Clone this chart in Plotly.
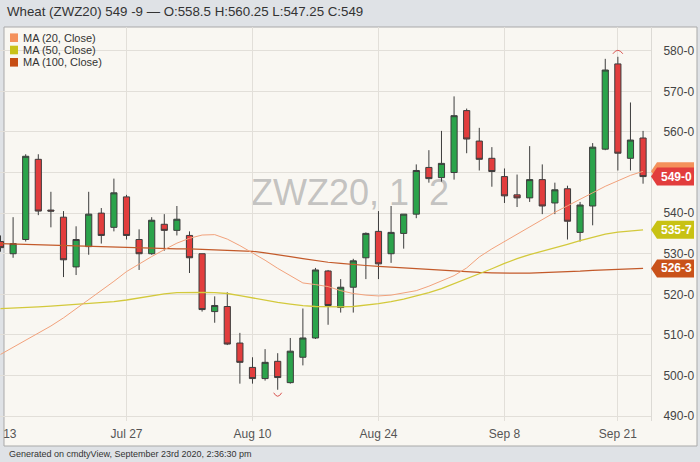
import plotly.graph_objects as go

# ---------------- data ----------------
dates = ["2020-07-13","2020-07-14","2020-07-15","2020-07-16","2020-07-17",
         "2020-07-20","2020-07-21","2020-07-22","2020-07-23","2020-07-24",
         "2020-07-27","2020-07-28","2020-07-29","2020-07-30","2020-07-31",
         "2020-08-03","2020-08-04","2020-08-05","2020-08-06","2020-08-07",
         "2020-08-10","2020-08-11","2020-08-12","2020-08-13","2020-08-14",
         "2020-08-17","2020-08-18","2020-08-19","2020-08-20","2020-08-21",
         "2020-08-24","2020-08-25","2020-08-26","2020-08-27","2020-08-28",
         "2020-08-31","2020-09-01","2020-09-02","2020-09-03","2020-09-04",
         "2020-09-08","2020-09-09","2020-09-10","2020-09-11",
         "2020-09-14","2020-09-15","2020-09-16","2020-09-17","2020-09-18",
         "2020-09-21","2020-09-22","2020-09-23"]

open_ = [533.0, 530.0, 533.5, 553.25, 540.75,
         539.0, 526.75, 531.75, 540.0, 536.5,
         544.0, 533.5, 530.0, 537.25, 535.75,
         534.5, 530.0, 515.75, 517.0, 508.0,
         502.0, 499.25, 503.5, 498.25, 504.5,
         509.25, 525.75, 516.75, 521.75, 529.0,
         535.5, 530.0, 535.0, 539.75, 551.25,
         548.75, 550.0, 565.25, 557.75, 553.5,
         549.0, 544.5, 543.75, 548.25,
         542.5, 546.0, 535.25, 541.75, 555.75,
         576.75, 553.5, 558.5]
high = [534.5, 539.0, 554.5, 554.5, 545.25,
        540.5, 536.75, 545.25, 541.25, 548.5,
        544.5, 536.0, 539.0, 539.75, 541.75,
        535.5, 530.0, 519.5, 520.5, 510.5,
        504.5, 506.5, 505.5, 509.25, 516.5,
        526.5, 526.0, 523.75, 528.75, 535.25,
        540.5, 541.75, 539.75, 552.0, 555.5,
        560.25, 568.75, 565.75, 561.0, 556.25,
        551.0, 549.5, 556.5, 552.0,
        547.5, 546.75, 542.75, 557.25, 578.0,
        578.5, 567.25, 560.25]
low = [530.5, 529.0, 533.0, 539.5, 536.5,
       524.25, 524.75, 529.75, 532.5, 535.5,
       533.5, 526.0, 529.75, 530.75, 534.5,
       525.25, 515.75, 513.0, 507.5, 498.0,
       498.0, 498.75, 496.5, 498.0, 502.5,
       509.0, 512.5, 515.5, 515.5, 523.75,
       523.75, 527.75, 531.25, 538.75, 547.5,
       547.75, 548.25, 554.75, 550.5, 546.5,
       542.5, 541.5, 542.75, 539.75,
       539.75, 533.5, 533.0, 537.0, 555.5,
       550.5, 550.5, 547.25]
close = [531.5, 532.5, 554.0, 540.5, 540.5,
         528.5, 533.5, 539.75, 534.5, 545.0,
         534.5, 530.0, 538.25, 535.75, 538.5,
         529.0, 516.25, 517.25, 507.75, 503.25,
         499.25, 503.25, 499.5, 506.0, 509.25,
         526.0, 517.25, 521.75, 528.25, 535.0,
         527.5, 535.25, 539.75, 550.5, 548.5,
         552.25, 564.0, 558.25, 553.25, 550.25,
         544.25, 543.75, 548.25, 541.75,
         545.75, 538.0, 542.0, 556.25, 575.25,
         554.75, 558.0, 549.0]

ma20 = [505.2, 506.9, 508.6, 510.3, 512.2, 514.2, 516.4, 518.6, 520.8, 523.2,
        525.6, 527.5, 529.3, 531.0, 532.6, 533.8, 534.6, 534.7, 533.6, 532.0,
        530.3, 528.4, 526.4, 524.6, 522.8, 522.4, 521.9, 520.9, 520.2, 519.8,
        519.6, 519.8, 520.3, 520.9, 522.0, 523.3, 524.6, 526.5, 529.2, 531.2,
        533.0, 534.8, 536.7, 538.5, 540.2, 541.8, 543.3, 545.0, 546.6, 548.0,
        549.3, 550.3]
ma50 = [516.5, 516.6, 516.8, 516.9, 517.1, 517.3, 517.5, 517.7, 517.9, 518.2,
        518.6, 519.1, 519.6, 520.1, 520.4, 520.5, 520.5, 520.4, 520.2, 519.7,
        519.1, 518.5, 518.0, 517.6, 517.2, 517.0, 516.9, 516.9, 517.0, 517.3,
        517.7, 518.2, 518.8, 519.6, 520.4, 521.4, 522.6, 523.8, 525.0, 526.3,
        527.6, 528.8, 529.8, 530.6, 531.5, 532.3, 533.2, 534.0, 534.8, 535.3,
        535.6, 535.875]
ma100 = [532.5, 532.4, 532.3, 532.2, 532.1, 532.0, 531.9, 531.8, 531.7, 531.6,
         531.5, 531.4, 531.3, 531.3, 531.2, 531.2, 531.1, 531.0, 530.9, 530.8,
         530.6, 530.2, 529.8, 529.3, 528.8, 528.3, 527.9, 527.6, 527.3, 527.1,
         526.9, 526.7, 526.5, 526.3, 526.1, 525.9, 525.7, 525.5, 525.4, 525.3,
         525.2, 525.2, 525.2, 525.3, 525.4, 525.5, 525.7, 525.9, 526.0, 526.1,
         526.2, 526.375]

x_tick_vals = ["2020-07-13", "2020-07-27", "2020-08-10", "2020-08-24", "2020-09-08", "2020-09-21"]
x_tick_text = ["Jul 13", "Jul 27", "Aug 10", "Aug 24", "Sep 8", "Sep 21"]
y_tick_vals = [490, 500, 510, 520, 530, 540, 550, 560, 570, 580]
y_tick_text = ["490-0", "500-0", "510-0", "520-0", "530-0", "540-0", "550-0", "560-0", "570-0", "580-0"]

legend_names = ["MA (20, Close)", "MA (50, Close)", "MA (100, Close)"]
title_text = "Wheat (ZWZ20) 549 -9 \u2014 O:558.5 H:560.25 L:547.25 C:549"
footer_text = "Generated on cmdtyView, September 23rd 2020, 2:36:30 pm"
watermark_text = "ZWZ20, 1\u00a0\u00a02"

# tags on the right axis: (value, text, colour) drawn in order
tag_values = [ma20[-1], ma50[-1], ma100[-1], close[-1]]
tag_texts = [None, "535-7", "526-3", "549-0"]

# ---------------- styling ----------------
W, H = 700, 462
ML, MR, MT, MB = 0, 49, 27, 41
PW, PH = W - ML - MR, H - MT - MB

def px(xp):
    return (xp - ML) / PW

def py(yp):
    return (MT + PH - yp) / PH

C_UP = "#2ba34b"
C_DN = "#e23d3d"
C_MA20 = "#f2a27c"
C_MA50 = "#d3c93c"
C_MA100 = "#c35a2a"
LEG_COLS = ["#f4915b", "#c9c21a", "#c64d14"]
TAG_COLS = ["#f4915b", "#c8c214", "#c9521a", "#e23d3d"]
FONT = "Liberation Sans, Arial, sans-serif"

fig = go.Figure()

fig.add_trace(go.Scatter(x=dates, y=ma100, mode="lines",
                         line=dict(color=C_MA100, width=1.2), name=legend_names[2],
                         hoverinfo="skip"))
fig.add_trace(go.Scatter(x=dates, y=ma50, mode="lines",
                         line=dict(color=C_MA50, width=1.3), name=legend_names[1],
                         hoverinfo="skip"))
fig.add_trace(go.Scatter(x=dates, y=ma20, mode="lines",
                         line=dict(color=C_MA20, width=1), name=legend_names[0],
                         hoverinfo="skip"))
fig.add_trace(go.Candlestick(
    x=dates, open=open_, high=high, low=low, close=close,
    increasing=dict(line=dict(color="#3d3d3d", width=1), fillcolor=C_UP),
    decreasing=dict(line=dict(color="#3d3d3d", width=1), fillcolor=C_DN),
    whiskerwidth=0, name="ZWZ20"))

shapes = []
# panel
shapes.append(dict(type="rect", xref="paper", yref="paper",
                   x0=px(4), x1=px(697), y0=py(446), y1=py(27),
                   fillcolor="#f9f7f2", line=dict(color="#a9a9a9", width=1),
                   layer="below"))
# watermark
shapes.append(dict(type="rect", xref="paper", yref="paper",
                   x0=px(240), x1=px(460), y0=py(210), y1=py(168),
                   fillcolor="rgba(0,0,0,0)", line=dict(width=0), layer="between",
                   label=dict(text=watermark_text, textposition="middle center",
                              font=dict(family=FONT, size=36, color="rgba(160,160,160,0.62)"))))
# legend squares
for i, col in enumerate(LEG_COLS):
    yc = 37.7 + 12.3 * i
    shapes.append(dict(type="rect", xref="paper", yref="paper",
                       x0=px(10), x1=px(18), y0=py(yc + 4.3), y1=py(yc - 4.3),
                       fillcolor=col, line=dict(width=0), layer="above"))
# high / low markers
shapes.append(dict(type="path", xref="x", yref="y", xsizemode="pixel", ysizemode="pixel",
                   xanchor=dates[49], yanchor=high[49], path="M-5,3 Q0,10 5,3",
                   line=dict(color="#d9534f", width=1), fillcolor="rgba(0,0,0,0)", layer="above"))
shapes.append(dict(type="path", xref="x", yref="y", xsizemode="pixel", ysizemode="pixel",
                   xanchor=dates[22], yanchor=low[22], path="M-4,-3 Q0,-10 4,-3",
                   line=dict(color="#d9534f", width=1), fillcolor="rgba(0,0,0,0)", layer="above"))
# right-side value tags
for v, col in zip(tag_values, TAG_COLS):
    shapes.append(dict(type="path", xref="paper", yref="y", xsizemode="pixel", ysizemode="pixel",
                       xanchor=1, yanchor=v, path="M0,0 L6,9 L43,9 L43,-9 L6,-9 Z",
                       fillcolor=col, line=dict(width=0), layer="above"))
# cover the bottom of the lowest y label
shapes.append(dict(type="rect", xref="paper", yref="paper",
                   x0=px(652), x1=px(696), y0=py(445), y1=py(421),
                   fillcolor="#f9f7f2", line=dict(width=0), layer="above"))

annotations = []
annotations.append(dict(text=title_text, xref="paper", yref="paper", x=px(5), y=py(12),
                        xanchor="left", yanchor="middle", showarrow=False,
                        font=dict(family=FONT, size=13.3, color="#333333")))
annotations.append(dict(text=footer_text, xref="paper", yref="paper", x=px(7), y=py(454),
                        xanchor="left", yanchor="middle", showarrow=False,
                        font=dict(family=FONT, size=9, color="#333333")))
for i, name in enumerate(legend_names):
    annotations.append(dict(text=name, xref="paper", yref="paper", x=px(21), y=py(37.7 + 12.3 * i),
                            xanchor="left", yanchor="middle", showarrow=False,
                            font=dict(family=FONT, size=11, color="#333333")))
for v, t in zip(tag_values, tag_texts):
    if t is None:
        continue
    annotations.append(dict(text="<b>" + t + "</b>", xref="paper", yref="y", x=1, y=v,
                            xanchor="left", yanchor="middle", xshift=8, showarrow=False,
                            font=dict(family=FONT, size=12, color="#ffffff")))

fig.update_layout(
    width=W, height=H,
    margin=dict(l=ML, r=MR, t=MT, b=MB, pad=0),
    paper_bgcolor="#dfe2e6",
    plot_bgcolor="rgba(0,0,0,0)",
    showlegend=False,
    shapes=shapes,
    annotations=annotations,
    xaxis=dict(type="category", range=[-0.04, 51.63], rangeslider=dict(visible=False),
               tickmode="array", tickvals=x_tick_vals, ticktext=x_tick_text,
               showgrid=True, gridcolor="#e2dfd9", gridwidth=1,
               zeroline=False, showline=False, ticks="", automargin=False,
               ticklabelstandoff=4,
               tickfont=dict(family="Liberation Sans Narrow, Arial Narrow, " + FONT, size=12, color="#555555")),
    yaxis=dict(side="right", range=[488.8, 585.84], tickmode="array",
               tickvals=y_tick_vals, ticktext=y_tick_text,
               showgrid=True, gridcolor="#e2dfd9", gridwidth=1,
               zeroline=False, showline=True, linecolor="#dcdad5", linewidth=1,
               ticks="", ticklabelstandoff=9, automargin=False,
               tickfont=dict(family=FONT, size=12, color="#444444")),
)

fig.write_html("out.html", config={"displayModeBar": False},
               post_script="document.body.style.margin='0';")
